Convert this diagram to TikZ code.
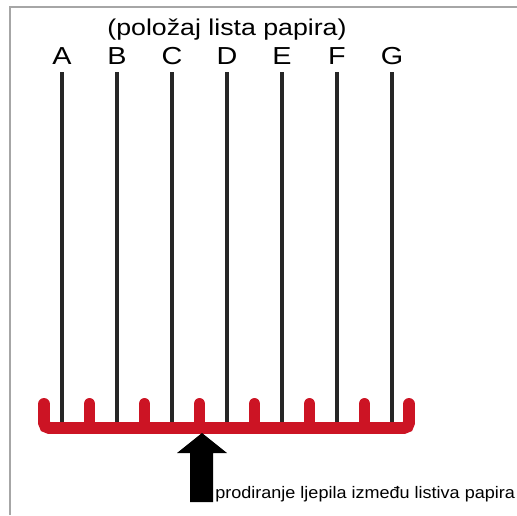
\documentclass[tikz,border=0pt]{standalone}
\usepackage{fontspec}
\setmainfont{Liberation Sans}
\usepackage{xcolor,graphicx}
\usetikzlibrary{arrows.meta,calc,positioning}
\definecolor{gluered}{HTML}{CC1424}
\newcommand{\widetxt}[1]{\scalebox{1.17}[1]{#1}}

\begin{document}
\begin{tikzpicture}[
  x=0.02cm,y=-0.02cm,
  frame/.style={draw=gray!70,line width=1.2pt},
  sheet/.style={line width=2.5pt,black!85},
  glue/.style={line width=6.8pt,gluered,line cap=round},
  lbl/.style={font=\fontsize{14}{16}\selectfont,inner sep=0pt}
]
\useasboundingbox (0,0) rectangle (517,515);
\draw[frame] (10,515) -- (10,7) -- (517,7);
\node[lbl,anchor=base,font=\fontsize{13}{15}\selectfont] (title) at (227,35) {\widetxt{(položaj lista papira)}};
\foreach \l [count=\i from 0] in {A,B,C,D,E,F,G} {
  \node[lbl,anchor=base] (\l) at (62+55*\i,64) {\widetxt{\l}};
  \draw[sheet] (62+55*\i,72) -- (62+55*\i,422);
}
% ljepilo
\draw[glue,rounded corners=3pt] (44,404) -- (44,428) -- (409,428) -- (409,404);
\foreach \i in {0,...,5}
  \draw[glue] (89.5+55*\i,404) -- (89.5+55*\i,428);
\coordinate (tip) at (202,433);
\fill[black] (tip) -- (227,453) -- (213,453) -- (213,502) -- (190,502) -- (190,453) -- (177,453) -- cycle;
\node[anchor=base west,inner sep=0pt,font=\fontsize{9.5}{11}\selectfont] (note) at (215,498) {\scalebox{1.08}[1]{prodiranje ljepila između listiva papira}};
\end{tikzpicture}
\end{document}
